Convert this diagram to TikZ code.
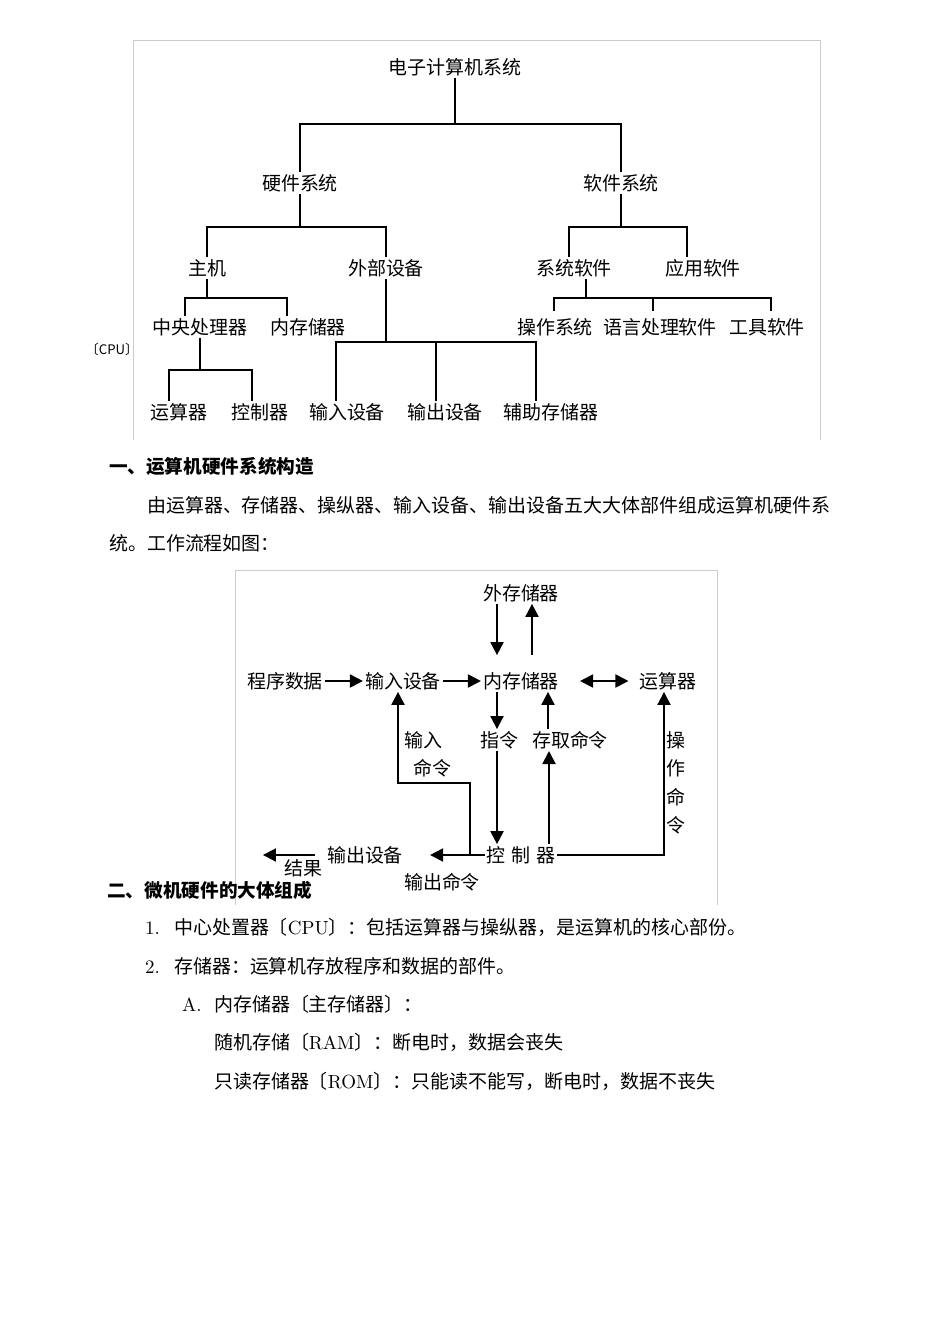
\documentclass[tikz,border=0pt]{standalone}
\usepackage{fontspec}
\newfontfamily\cjk{Noto Sans CJK SC}
\usetikzlibrary{arrows.meta,calc}

\begin{document}
\begin{tikzpicture}[x=0.02cm,y=-0.02cm,
        >={Triangle[length=0.26cm,width=0.26cm]},
        txt/.style={font=\cjk\fontsize{10.8}{13}\selectfont,inner sep=1pt},
        para/.style={txt,anchor=west},
        head/.style={para,font=\cjk\bfseries\fontsize{10.6}{13}\selectfont},
        tree/.style={line width=0.6pt},
        treeb/.style={line width=1.1pt},
        flow/.style={line width=1.1pt,->},
        frame/.style={draw=black!20,line width=0.5pt}]
        \useasboundingbox (0,0) rectangle (950,1342);
        \fill[white] (0,0) rectangle (950,1342);

        %frames round the two pictures
        \draw[frame] (133,440) |- (820,40) -- (820,440);
        \draw[frame] (235,905) |- (717,570) -- (717,905);

        %first picture: the system tree
        \node[txt] (sys) at (455,67) {电子计算机系统};
        \node[txt] (hw) at (300,183) {硬件系统};
        \node[txt] (sw) at (621,183) {软件系统};
        \node[txt] (host) at (207,268) {主机};
        \node[txt] (ext) at (386,268) {外部设备};
        \node[txt] (ssw) at (574,268) {系统软件};
        \node[txt] (asw) at (703,268) {应用软件};
        \node[txt] (cpu) at (200,327) {中央处理器};
        \node[txt] (mem) at (308,327) {内存储器};
        \node[txt] (os) at (555,327) {操作系统};
        \node[txt] (lang) at (660,327) {语言处理软件};
        \node[txt] (tool) at (767,327) {工具软件};
        \node[txt,font=\cjk\fontsize{7.5}{9}\selectfont] (cpulbl) at (112,349) {〔CPU〕};
        \node[txt] (alu) at (179,412) {运算器};
        \node[txt] (ctl) at (260,412) {控制器};
        \node[txt] (inp) at (347,412) {输入设备};
        \node[txt] (outp) at (445,412) {输出设备};
        \node[txt] (aux) at (551,412) {辅助存储器};

        \coordinate (bar1) at (0,124);
        \coordinate (bar2) at (0,227);
        \coordinate (bar3) at (0,298);
        \coordinate (bar4) at (0,342);
        \coordinate (bar5) at (0,370);

        \draw[tree] (sys.south) -- (sys.south |- bar1);
        \draw[tree] (hw.north) |- (sys.south |- bar1) -| (sw.north);

        %hardware branch
        \draw[tree] (hw.south) -- (hw.south |- bar2);
        \draw[tree] (host.north) |- (hw.south |- bar2) -| (ext.north);
        \draw[tree] (host.south) -- (host.south |- bar3);
        \coordinate (cpuin) at ($(cpu.north)+(-15,0)$);
        \coordinate (memin) at ($(mem.north)+(-21,0)$);
        \draw[treeb] (cpuin) |- (host.south |- bar3) -| (memin);
        \draw[tree] (cpu.south) -- (cpu.south |- bar5);
        \coordinate (aluin) at ($(alu.north)+(-10,0)$);
        \coordinate (ctlin) at ($(ctl.north)+(-8,0)$);
        \draw[tree] (aluin) |- (cpu.south |- bar5) -| (ctlin);
        \draw[tree] (ext.south) -- (ext.south |- bar4);
        \coordinate (inpin) at ($(inp.north)+(-11,0)$);
        \coordinate (outpin) at ($(outp.north)+(-9,0)$);
        \coordinate (auxin) at ($(aux.north)+(-15,0)$);
        \draw[treeb] (inpin) |- (ext.south |- bar4) -| (auxin);
        \draw[tree] (outpin) -- (outpin |- bar4);

        %software branch
        \draw[tree] (sw.south) -- (sw.south |- bar2);
        \coordinate (sswin) at ($(ssw.north)+(-5,0)$);
        \coordinate (aswin) at ($(asw.north)+(-16,0)$);
        \draw[tree] (sswin) |- (sw.south |- bar2) -| (aswin);
        \coordinate (sswout) at ($(ssw.south)+(12,0)$);
        \draw[tree] (sswout) -- (sswout |- bar3);
        \coordinate (osin) at ($(os.north)+(-1,-5)$);
        \coordinate (langin) at ($(lang.north)+(-7,-5)$);
        \coordinate (toolin) at ($(tool.north)+(4,-5)$);
        \draw[treeb] (osin) |- (sswout |- bar3) -| (toolin);
        \draw[tree] (langin) -- (langin |- bar3);

        %text between the pictures
        \node[head] (h1) at (107,466) {一、运算机硬件系统构造};
        \node[para] (p1a) at (145,505) {由运算器、存储器、操纵器、输入设备、输出设备五大大体部件组成运算机硬件系};
        \node[para] (p1b) at (107,543) {统。工作流程如图：};

        %second picture: the work flow
        \node[txt] (ext2) at (521,593) {外存储器};
        \node[txt] (prog) at (285,681) {程序数据};
        \node[txt] (in2) at (403,681) {输入设备};
        \node[txt] (mem2) at (521,681) {内存储器};
        \node[txt] (alu2) at (668,681) {运算器};
        \node[txt] (instr) at (499,740) {指令};
        \node[txt] (acc) at (570,740) {存取命令};
        \node[txt] (incmdA) at (423,740) {输入};
        \node[txt] (incmdB) at (432,768) {命令};
        \node[txt,align=center,font=\cjk\fontsize{10.8}{16.2}\selectfont] (opcmd) at (676,783) {操\\作\\命\\令};
        \node[txt] (ctl2) at (521,855) {控\hspace{0.3em}制\hspace{0.3em}器};
        \node[txt] (out2) at (365,855) {输出设备};
        \node[txt,inner sep=0pt] (res) at (303,868) {结果};
        \node[txt] (outcmd) at (442,882) {输出命令};

        \draw[flow,shorten >=0.3cm] ($(ext2.south)+(-24,0)$) -- ($(mem2.north)+(-24,0)$);
        \draw[flow,shorten <=0.3cm] ($(mem2.north)+(11,0)$) -- ($(ext2.south)+(11,0)$);
        \draw[flow] (prog.east) -- (in2.west);
        \draw[flow] (in2.east) -- (mem2.west);
        \draw[line width=1.1pt,<->,shorten <=0.38cm,shorten >=0.18cm] (mem2.east) -- (alu2.west);
        \draw[flow] ($(mem2.south)+(-24,0)$) -- ($(instr.north)+(-2,0)$);
        \draw[flow] ($(acc.north)+(-22,0)$) -- ($(mem2.south)+(27,0)$);
        \draw[flow] ($(instr.south)+(-2,0)$) -- ($(ctl2.north)+(-24,0)$);
        \draw[flow] ($(ctl2.north)+(28,0)$) -- ($(acc.south)+(-21,0)$);
        \draw[flow] (ctl2.east) -| ($(alu2.south)+(-4,0)$);
        \draw[flow,shorten >=0.5cm] (ctl2.west) -- (out2.east);
        \coordinate (split) at ($(ctl2.west)+(-15,0)$);
        \coordinate (turn) at ($(split)+(0,-72)$);
        \draw[flow] (split) -- (turn) -| ($(in2.south)+(-5,0)$);
        \coordinate (resend) at ($(out2.west)+(-62,0)$);
        \draw[flow,shorten <=0.2cm] (out2.west) -- (resend);

        %text below the pictures
        \node[head,inner sep=0pt] (h2) at (107,890) {二、微机硬件的大体组成};
        \node[para] (l1) at (143,927) {\makebox[0.58cm][l]{\rmfamily 1.}中心处置器〔{\rmfamily CPU}〕：包括运算器与操纵器，是运算机的核心部份。};
        \node[para] (l2) at (143,966) {\makebox[0.58cm][l]{\rmfamily 2.}存储器：运算机存放程序和数据的部件。};
        \node[para] (l3) at (180,1004) {\makebox[0.64cm][l]{\rmfamily A.}内存储器〔主存储器〕：};
        \node[para] (l4) at (212,1042) {随机存储〔{\rmfamily RAM}〕：断电时，数据会丧失};
        \node[para] (l5) at (212,1081) {只读存储器〔{\rmfamily ROM}〕：只能读不能写，断电时，数据不丧失};
\end{tikzpicture}
\end{document}
